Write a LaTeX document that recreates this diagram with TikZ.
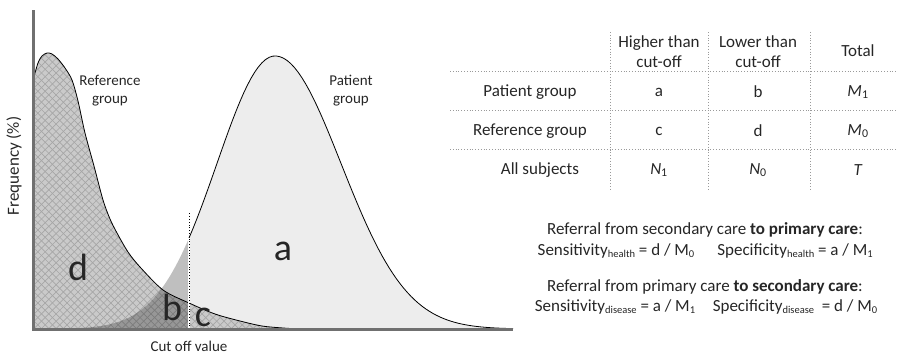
\documentclass[tikz,border=0pt]{standalone}
\usepackage{fontspec}
\setmainfont{Carlito}
\usepackage{tikz}
\usetikzlibrary{positioning}

\definecolor{axisgray}{HTML}{707070}
\definecolor{patfill}{HTML}{EDEDED}
\definecolor{reffill}{HTML}{CACACA}
\definecolor{hatchgray}{HTML}{A6A6A6}
\definecolor{txt}{HTML}{262626}
\definecolor{tabline}{HTML}{9A9A9A}

% small lowered text for the formulas
\newcommand{\lowtxt}[1]{\raisebox{-0.3ex}{\fontsize{10.5}{10.5}\selectfont #1}}

% reference group curve (pixel coordinates, y downwards)
\newcommand{\refcurve}{plot[smooth] coordinates {(33,80) (38,63) (42,56) (47,53) (52,54) (58,59)
  (65,68) (72,80) (78,101) (85,133) (94,166) (103,200) (110,219) (117,233) (128,252)
  (140,267) (163,290) (189,303) (215,314) (240,321) (262,326) (283,328) (300,329)}}
\newcommand{\refregion}{(33,329) -- plot[smooth] coordinates {(33,80) (38,63) (42,56) (47,53) (52,54) (58,59)
  (65,68) (72,80) (78,101) (85,133) (94,166) (103,200) (110,219) (117,233) (128,252)
  (140,267) (163,290) (189,303) (215,314) (240,321) (262,326) (283,328) (300,329)} -- cycle}

\begin{document}
\begin{tikzpicture}[x=1pt, y=-1pt,
  declare function={pat(\t)=273*exp(-0.5*((\t-275)/((\t<275)*58+(\t>=275)*66))^2);},
  lbl/.style={text=txt, font=\fontsize{17}{20}\selectfont, inner sep=0pt, align=center},
  grouplbl/.style={text=txt, font=\fontsize{15}{18}\selectfont, inner sep=0pt, align=center},
  areaname/.style={text=txt, font=\fontsize{38}{38}\selectfont, inner sep=0pt},
  tabrule/.style={tabline, dotted, line width=0.8pt},
  curve/.style={black, line width=0.8pt}]
  \useasboundingbox (0,0) rectangle (898,356);

  % patient group above cut-off
  \fill[patfill] (189,329) -- plot[domain=189:513, samples=90] (\x,{329-pat(\x)}) -- (513,329) -- cycle;

  % reference group, cross hatched
  \begin{scope}
    \clip \refregion;
    \fill[reffill] (30,40) rectangle (310,330);
    \foreach \c in {-360,-352.7,...,700} {
      \draw[hatchgray, line width=0.7pt] (\c,0) -- ++(356,356);
      \draw[hatchgray, line width=0.7pt] (\c,0) -- ++(-356,356);
    }
  \end{scope}

  % patient group below cut-off
  \fill[black, opacity=0.25] (80,329) -- plot[domain=80:189, samples=60] (\x,{329-pat(\x)}) -- (189,329) -- cycle;

  % outlines
  \draw[curve] \refcurve;
  \draw[curve] plot[domain=189:513, samples=90] (\x,{329-pat(\x)});

  % cut-off
  \draw[white, line width=2pt] (189,329) -- (189,{329-pat(189)});
  \draw[black, dotted, line width=0.8pt] (189,329) -- (189,213);

  % axes
  \draw[axisgray, line width=3pt] (33,10) -- (33,329) -- (513,329);

  \node[lbl, rotate=90] (ylab) at (14,166) {Frequency (\%)};
  \node[grouplbl] (xlab) at (189,346) {Cut off value};
  \node[grouplbl] (refgrp) at (110,91) {Reference\\group};
  \node[grouplbl] (patgrp) at (351,91) {Patient\\group};

  \node[areaname] (area a) at (283,251) {a};
  \node[areaname] (area b) at (172,307) {b};
  \node[areaname] (area c) at (203,317) {c};
  \node[areaname] (area d) at (78,267) {d};

  % table
  \draw[tabrule] (610,32) -- (610,190);
  \draw[tabrule] (708,32) -- (708,190);
  \draw[tabrule] (810,32) -- (810,190);
  \draw[tabrule] (450,71) -- (898,71);
  \draw[tabrule] (450,110) -- (898,110);
  \draw[tabrule] (450,149) -- (898,149);

  \node[lbl] (hhigh) at (659,52) {Higher than\\cut-off};
  \node[lbl] (hlow) at (758,52) {Lower than\\cut-off};
  \node[lbl] (htot) at (858,51) {Total};

  \node[lbl] (rpat) at (530,92) {Patient group};
  \node[lbl] (rref) at (530,131) {Reference group};
  \node[lbl] (rall) at (540,170) {All subjects};

  \node[lbl] (ca) at (659,92) {a};
  \node[lbl] (cb) at (758,92) {b};
  \node[lbl] (cm1) at (858,92) {\textit{M}\textsubscript{1}};
  \node[lbl] (cc) at (659,131) {c};
  \node[lbl] (cd) at (758,131) {d};
  \node[lbl] (cm0) at (858,131) {\textit{M}\textsubscript{0}};
  \node[lbl] (cn1) at (659,170) {\textit{N}\textsubscript{1}};
  \node[lbl] (cn0) at (758,170) {\textit{N}\textsubscript{0}};
  \node[lbl] (ct) at (858,170) {\textit{T}};

  % referral formulas
  \node[lbl] (toprim) at (705,230) {Referral from secondary care \textbf{to primary care}:};
  \node[lbl] (senshealth) at (616,251) {Sensitivity\lowtxt{health} = d / M\lowtxt{0}};
  \node[lbl] (spechealth) at (795,251) {Specificity\lowtxt{health} = a / M\lowtxt{1}};
  \node[lbl] (tosec) at (705,287) {Referral from primary care \textbf{to secondary care}:};
  \node[lbl] (sensdis) at (615,307) {Sensitivity\lowtxt{disease} = a / M\lowtxt{1}};
  \node[lbl] (specdis) at (795,307) {Specificity\lowtxt{disease}\ \ = d / M\lowtxt{0}};
\end{tikzpicture}
\end{document}
